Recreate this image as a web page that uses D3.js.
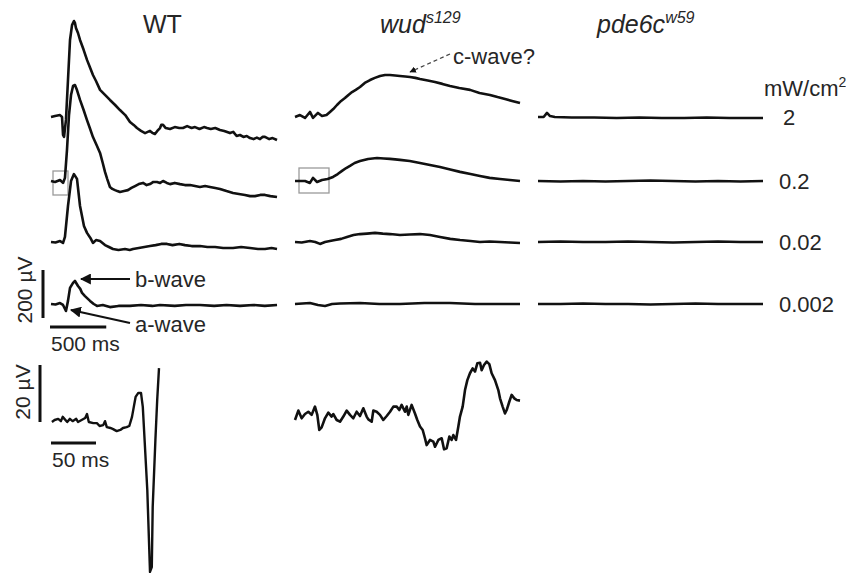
<!DOCTYPE html>
<html>
<head>
<meta charset="utf-8">
<script src="https://cdn.jsdelivr.net/npm/d3@7"></script>
<style>
  body { margin: 0; background: #fff; }
  text { font-family: "Liberation Sans", Arial, sans-serif; fill: #262626; }
</style>
</head>
<body>
<script>
// stimulus intensities (mW/cm2), one row per intensity
const intensities = ["2", "0.2", "0.02", "0.002"];
const unitLabel = "mW/cm";

// ERG traces: [time ms, amplitude µV], 2 s sweeps
const wt2 = [[0,0],[36,4],[80,8],[98,0],[107,-75],[116,-83],[133,-12],[151,154],[169,321],[187,383],[204,400],[213,392],[222,371],[240,350],[258,321],[290,280],[320,238],[345,208],[373,175],[400,150],[436,113],[480,92],[524,71],[570,50],[613,29],[660,8],[702,-21],[735,-33],[764,-46],[800,-58],[836,-67],[860,-62],[880,-58],[900,-66],[924,-71],[945,-58],[969,-46],[980,-33],[996,-33],[1020,-46],[1058,-50],[1100,-42],[1140,-46],[1173,-46],[1210,-38],[1250,-46],[1280,-42],[1320,-50],[1360,-42],[1387,-46],[1420,-50],[1460,-46],[1502,-54],[1540,-58],[1591,-67],[1620,-62],[1650,-79],[1680,-75],[1710,-83],[1740,-79],[1769,-88],[1800,-92],[1830,-86],[1858,-92],[1880,-83],[1902,-83],[1940,-92],[1970,-88],[2009,-96]];
const wt02 = [[0,0],[36,-4],[80,4],[107,-8],[124,13],[142,129],[160,275],[178,358],[196,396],[213,400],[231,379],[258,338],[290,296],[320,254],[345,221],[373,183],[405,150],[436,117],[460,75],[480,38],[500,8],[524,-25],[545,-33],[569,-38],[590,-42],[613,-46],[650,-42],[684,-38],[715,-29],[747,-21],[780,-13],[818,-8],[850,-17],[880,-13],[910,-4],[942,-4],[970,-8],[996,0],[1030,-8],[1058,-13],[1100,-8],[1147,-13],[1190,-17],[1236,-17],[1280,-21],[1324,-25],[1370,-21],[1413,-25],[1460,-29],[1502,-33],[1560,-42],[1618,-50],[1670,-54],[1724,-58],[1770,-63],[1813,-63],[1860,-58],[1902,-58],[1950,-63],[2009,-67]];
const wt002 = [[0,0],[40,-2],[80,4],[107,-4],[124,21],[151,150],[178,254],[204,283],[231,263],[258,150],[293,67],[320,38],[350,17],[373,-4],[400,8],[436,4],[480,-13],[515,-21],[551,-29],[600,-33],[658,-29],[700,-33],[729,-29],[780,-25],[830,-21],[880,-17],[930,-13],[980,-8],[1031,-8],[1080,-13],[1140,-8],[1191,-13],[1250,-17],[1324,-17],[1390,-21],[1458,-21],[1530,-25],[1618,-25],[1690,-21],[1769,-25],[1840,-29],[1902,-29],[1960,-25],[2009,-29]];
const wt0002 = [[0,0],[40,-2],[80,4],[107,-4],[133,-29],[151,13],[169,67],[196,88],[213,96],[240,75],[260,63],[276,46],[302,33],[347,13],[380,0],[409,-8],[460,-4],[524,-13],[600,-8],[702,-8],[800,-4],[900,-8],[969,-4],[1100,-8],[1200,-4],[1324,-4],[1450,-8],[1560,-4],[1680,-8],[1800,-4],[1900,-8],[2009,-4]];

const wud2 = [[0,0],[44,8],[89,-4],[133,21],[160,-4],[204,17],[240,4],[280,8],[311,21],[340,33],[373,50],[410,67],[444,79],[475,92],[507,104],[540,113],[578,125],[620,142],[667,154],[710,163],[756,171],[800,175],[844,175],[890,173],[933,171],[980,169],[1022,167],[1070,163],[1111,158],[1180,152],[1244,146],[1310,138],[1378,129],[1460,121],[1556,113],[1640,100],[1733,92],[1800,83],[1867,75],[1930,67],[2000,58]];
const wud02 = [[0,0],[89,0],[133,-8],[160,13],[196,-4],[240,4],[290,8],[338,17],[380,29],[418,42],[455,54],[489,63],[530,75],[578,83],[650,92],[729,96],[790,94],[844,92],[890,90],[933,88],[1020,83],[1111,75],[1200,67],[1289,58],[1380,48],[1467,38],[1560,29],[1644,21],[1730,13],[1822,8],[1910,4],[2000,0]];
const wud002 = [[0,0],[60,-2],[133,4],[180,0],[222,-8],[267,0],[310,4],[356,8],[410,13],[462,21],[520,29],[578,33],[640,35],[711,38],[780,35],[844,33],[890,31],[933,29],[1020,31],[1111,33],[1200,29],[1289,21],[1380,13],[1467,8],[1560,4],[1644,0],[1730,2],[1822,0],[1910,-2],[2000,-4]];
const wud0002 = [[0,0],[133,4],[204,-4],[267,-8],[329,0],[400,2],[578,4],[750,0],[933,0],[1150,4],[1378,4],[1600,0],[1800,0],[2000,0]];

const pde2 = [[0,0],[50,0],[80,17],[107,4],[150,0],[300,-2],[500,-2],[700,-4],[900,-2],[1100,-4],[1300,-4],[1500,-2],[1700,-4],[1900,-4],[2000,-4]];
const pde02 = [[0,0],[200,-2],[400,0],[600,-2],[800,0],[1000,2],[1200,0],[1400,-2],[1600,0],[1800,-2],[2000,0]];
const pde002 = [[0,0],[200,2],[400,0],[600,0],[800,2],[1000,0],[1200,-2],[1400,0],[1600,2],[1800,0],[2000,0]];
const pde0002 = [[0,0],[200,0],[400,2],[600,0],[800,0],[1000,-2],[1200,0],[1400,2],[1600,0],[1800,0],[2000,0]];

// expanded onset windows (boxed regions), [time ms, amplitude µV]
const wtZoom = [[1,-0.7],[4,0],[8,0.4],[11,-0.4],[13,1.1],[18,-0.7],[21,0.4],[24,-0.4],[28,0.4],[30,-0.7],[34,0],[38,0.7],[40,2.1],[42,-0.7],[47,-1.1],[51,-1.1],[54,-2.1],[58,-1.8],[60,-0.4],[62,-2.5],[66,-2.8],[69,-3.2],[73,-3.9],[77,-3.5],[80,-2.8],[84,-2.5],[87,-2.1],[90,1.1],[92,4.6],[94,8.1],[97,9.5],[100,9.5],[102,4.6],[104,-7.0],[107,-24.6],[110,-53.3],[112,-51.6],[113,-30.5],[116,-7.0],[118,7.0],[120,18.2]];
const wudZoom = [[0,-0.7],[3.7,2.6],[7.4,-0.1],[11.1,1.4],[14.8,2.2],[18.5,1.1],[22.2,4.0],[24.8,1.1],[27,-4.2],[29.6,-3.3],[33.3,-0.1],[37,1.9],[40.7,0.5],[42.6,1.4],[46.3,-0.7],[50,-1.3],[53.7,0.5],[57.4,2.6],[61.1,1.1],[64.8,-0.1],[68.5,2.2],[72.2,0.7],[75.9,3.4],[79.6,0.5],[81.5,-0.5],[85.2,-1.3],[87,2.6],[90.7,2.2],[94.4,1.1],[98.1,-0.7],[101.9,0.7],[105.6,2.2],[109.3,4.0],[113,4.0],[115.9,2.8],[118.5,4.6],[122.2,2.2],[124.1,4.0],[125.9,1.1],[129.6,4.6],[133.3,1.6],[135.9,-0.7],[138.9,-3.0],[141.9,-4.2],[144.4,-7.1],[146.3,-9.5],[150,-7.7],[153.7,-8.3],[155.6,-10.1],[159.3,-7.7],[163,-7.1],[165.6,-11.0],[168.5,-10.6],[171.5,-6.5],[174.1,-7.7],[175.9,-6.0],[178.9,-7.7],[181.5,-3.0],[183.3,0.5],[186.3,4.0],[188.9,9.8],[191.5,13.3],[194.4,15.7],[197.4,17.4],[200,16.3],[202.6,19.2],[205.6,19.4],[207.4,16.8],[210,18.6],[213,19.8],[215.9,18.9],[218.5,15.7],[222.2,13.3],[225.9,9.8],[227.8,6.9],[230.7,4.0],[233.3,1.6],[235.2,2.8],[238.1,5.7],[240.7,8.1],[243.7,6.9],[246.3,6.3],[250,6.1]];

const panels = [
  { x: 51,  traces: [wt2, wt02, wt002, wt0002] },
  { x: 295, traces: [wud2, wud02, wud002, wud0002] },
  { x: 538, traces: [pde2, pde02, pde002, pde0002] }
];
const rowBase = [117, 181, 242, 304];

const svg = d3.select("body").append("svg")
  .attr("width", 846)
  .attr("height", 573);

// main sweep scales
const x = d3.scaleLinear().domain([0, 2000]).range([0, 225]);
const y = d3.scaleLinear().domain([0, 200]).range([0, -48]);

// zoomed window scales
const xz = d3.scaleLinear().domain([0, 50]).range([0, 45]);
const yz = d3.scaleLinear().domain([0, 20]).range([0, -57]);

const line = d3.line().x(d => x(d[0])).y(d => y(d[1]));
const lineZ = d3.line().x(d => xz(d[0])).y(d => yz(d[1]));

svg.append("defs").append("marker")
  .attr("id", "head")
  .attr("viewBox", "0 0 10 10")
  .attr("refX", 9).attr("refY", 5)
  .attr("markerWidth", 5).attr("markerHeight", 5)
  .attr("orient", "auto-start-reverse")
  .append("path")
    .attr("d", "M0,0L10,5L0,10z")
    .attr("fill", "#111");

// gray boxes marking the expanded windows
svg.append("rect").attr("x", 53).attr("y", 171).attr("width", 15).attr("height", 24)
  .attr("fill", "none").attr("stroke", "#9a9a9a").attr("stroke-width", 1.3);
svg.append("rect").attr("x", 299).attr("y", 168).attr("width", 30).attr("height", 25)
  .attr("fill", "none").attr("stroke", "#9a9a9a").attr("stroke-width", 1.3);

panels.forEach(function (p) {
  p.traces.forEach(function (tr, i) {
    svg.append("path")
      .datum(tr)
      .attr("transform", "translate(" + p.x + "," + rowBase[i] + ")")
      .attr("fill", "none")
      .attr("stroke", "#111")
      .attr("stroke-width", 2.6)
      .attr("stroke-linejoin", "round")
      .attr("d", line);
  });
});

// expanded windows
svg.append("path").datum(wtZoom)
  .attr("transform", "translate(51,420)")
  .attr("fill", "none").attr("stroke", "#111").attr("stroke-width", 2.4)
  .attr("stroke-linejoin", "round").attr("d", lineZ);
svg.append("path").datum(wudZoom)
  .attr("transform", "translate(295,418)")
  .attr("fill", "none").attr("stroke", "#111").attr("stroke-width", 2.6)
  .attr("stroke-linejoin", "round").attr("d", lineZ);

// titles
const titles = [
  { x: 143, text: "WT", sup: "", italic: false },
  { x: 380, text: "wud", sup: "s129", italic: true },
  { x: 597, text: "pde6c", sup: "w59", italic: true }
];
titles.forEach(function (t) {
  const el = svg.append("text")
    .attr("x", t.x).attr("y", 33)
    .attr("font-size", 25)
    .attr("font-style", t.italic ? "italic" : "normal");
  el.append("tspan").text(t.text);
  if (t.sup) {
    el.append("tspan").attr("font-size", 16).attr("dy", -10).text(t.sup);
  }
});

// intensity labels (unit runs off the right edge, as in the figure)
const unit = svg.append("text").attr("x", 764).attr("y", 96).attr("font-size", 22);
unit.append("tspan").text(unitLabel);
unit.append("tspan").attr("font-size", 14).attr("dy", -9).text("2");

intensities.forEach(function (s, i) {
  svg.append("text")
    .attr("x", s === "2" ? 783 : 779)
    .attr("y", rowBase[i] + 8)
    .attr("font-size", 22)
    .text(s);
});

// c-wave annotation
svg.append("line")
  .attr("x1", 450).attr("y1", 54).attr("x2", 410).attr("y2", 72)
  .attr("stroke", "#444").attr("stroke-width", 1.3)
  .attr("stroke-dasharray", "4,3")
  .attr("marker-end", "url(#head)");
svg.append("text").attr("x", 453).attr("y", 64).attr("font-size", 22).text("c-wave?");

// b-wave / a-wave arrows
svg.append("line")
  .attr("x1", 130).attr("y1", 279).attr("x2", 81).attr("y2", 279)
  .attr("stroke", "#111").attr("stroke-width", 2.2)
  .attr("marker-end", "url(#head)");
svg.append("text").attr("x", 135).attr("y", 287).attr("font-size", 22).text("b-wave");
svg.append("line")
  .attr("x1", 130).attr("y1", 323).attr("x2", 71).attr("y2", 310)
  .attr("stroke", "#111").attr("stroke-width", 2.2)
  .attr("marker-end", "url(#head)");
svg.append("text").attr("x", 135).attr("y", 332).attr("font-size", 22).text("a-wave");

// scale bars, main sweeps
const sb = svg.append("g").attr("transform", "translate(43,318)");
sb.append("line").attr("x1", 0).attr("x2", 0).attr("y1", 0).attr("y2", y(200))
  .attr("stroke", "#111").attr("stroke-width", 3);
sb.append("line").attr("x1", 7).attr("x2", 7 + x(500)).attr("y1", 9).attr("y2", 9)
  .attr("stroke", "#111").attr("stroke-width", 3);
svg.append("text")
  .attr("transform", "translate(32,290) rotate(-90)")
  .attr("text-anchor", "middle").attr("font-size", 21).text("200 µV");
svg.append("text").attr("x", 51).attr("y", 351).attr("font-size", 21).text("500 ms");

// scale bars, expanded windows
const sz = svg.append("g").attr("transform", "translate(40,422)");
sz.append("line").attr("x1", 0).attr("x2", 0).attr("y1", 0).attr("y2", yz(20))
  .attr("stroke", "#111").attr("stroke-width", 3);
sz.append("line").attr("x1", 11).attr("x2", 11 + xz(50)).attr("y1", 21).attr("y2", 21)
  .attr("stroke", "#111").attr("stroke-width", 3);
svg.append("text")
  .attr("transform", "translate(30,392) rotate(-90)")
  .attr("text-anchor", "middle").attr("font-size", 21).text("20 µV");
svg.append("text").attr("x", 52).attr("y", 467).attr("font-size", 21).text("50 ms");
</script>
</body>
</html>
